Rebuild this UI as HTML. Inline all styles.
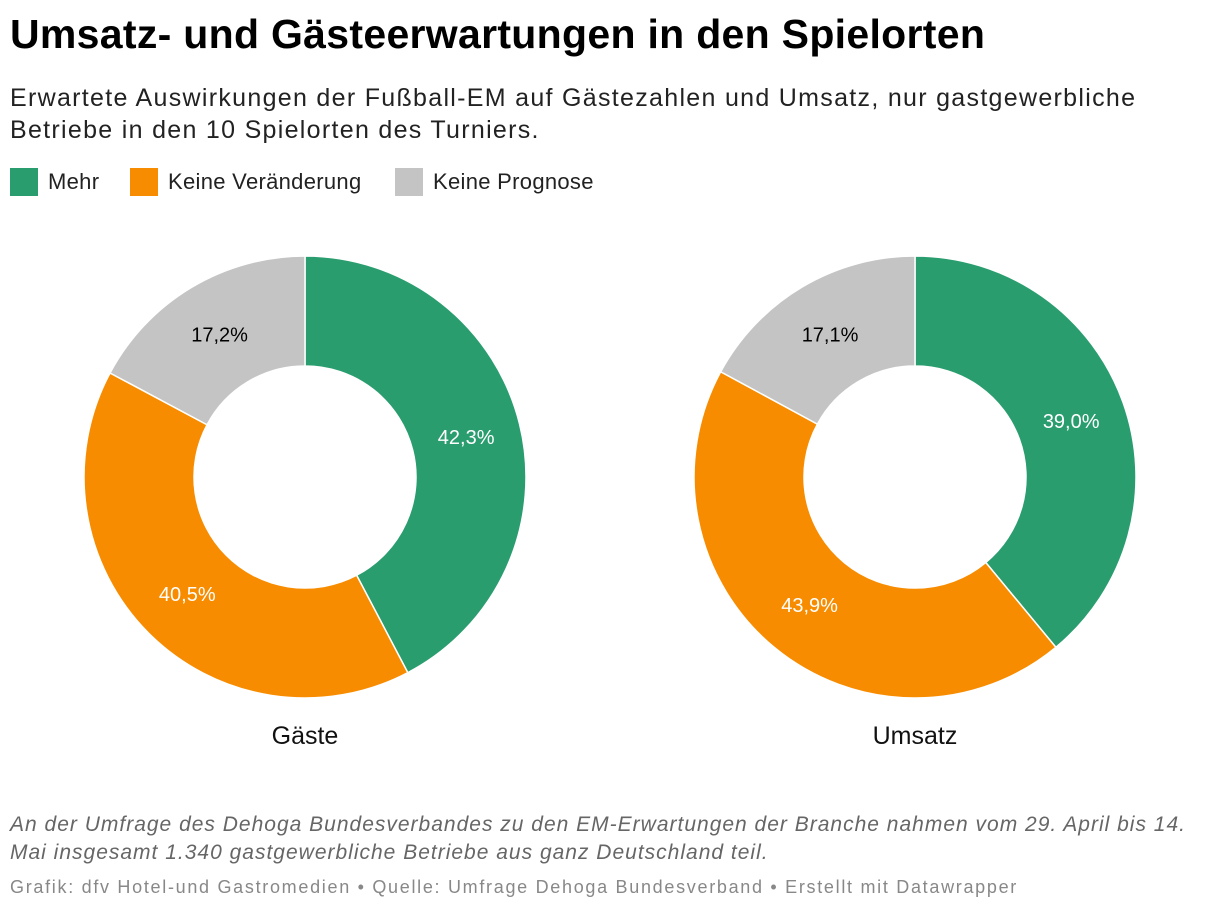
<!DOCTYPE html>
<html><head><meta charset="utf-8">
<style>
body{margin:0;width:1220px;height:912px;background:#fff;font-family:"Liberation Sans",sans-serif;position:relative;overflow:hidden}
.abs{position:absolute;white-space:nowrap}
#title{left:10px;top:11px;font-size:41px;font-weight:bold;color:#000;letter-spacing:0.3px}
#sub{left:10px;top:82px;font-size:25px;line-height:32px;color:#222;letter-spacing:1.3px}
.lg{top:168px;font-size:22px;color:#222;display:flex;align-items:center;letter-spacing:0.3px}
.sw{width:28px;height:28px;display:inline-block;margin-right:10px}
#note{left:10px;top:811px;font-size:21px;line-height:28px;font-style:italic;color:#666;letter-spacing:1px}
#credit{left:10px;top:877px;font-size:18px;color:#888;letter-spacing:1.7px}
</style></head><body>
<div class="abs" id="title">Umsatz- und Gästeerwartungen in den Spielorten</div>
<div class="abs" id="sub">Erwartete Auswirkungen der Fußball-EM auf Gästezahlen und Umsatz, nur gastgewerbliche<br>Betriebe in den 10 Spielorten des Turniers.</div>
<div class="abs lg" style="left:10px"><span class="sw" style="background:#2a9d6f"></span>Mehr</div>
<div class="abs lg" style="left:130px"><span class="sw" style="background:#f88c00"></span>Keine Veränderung</div>
<div class="abs lg" style="left:395px"><span class="sw" style="background:#c4c4c4"></span>Keine Prognose</div>
<svg id="chart" class="abs" style="left:0;top:0" width="1220" height="800"></svg>
<div class="abs" id="note">An der Umfrage des Dehoga Bundesverbandes zu den EM-Erwartungen der Branche nahmen vom 29. April bis 14.<br>Mai insgesamt 1.340 gastgewerbliche Betriebe aus ganz Deutschland teil.</div>
<div class="abs" id="credit">Grafik: dfv Hotel-und Gastromedien • Quelle: Umfrage Dehoga Bundesverband • Erstellt mit Datawrapper</div>
<script>
const charts = ["Gäste", "Umsatz"];
const mehr = [42.3, 39.0];
const keine = [40.5, 43.9];
const prognose = [17.2, 17.1];
const colors = ["#2a9d6f", "#f88c00", "#c4c4c4"];
const labelColors = ["#fff", "#fff", "#000"];
const centersX = [305, 915];
const cy = 477, R = 221, r = 111, LR = 166;
const svg = document.getElementById('chart');
const NS = "http://www.w3.org/2000/svg";
function pt(cx, a, rad){return [cx + rad*Math.sin(a), cy - rad*Math.cos(a)];}
charts.forEach((name, i) => {
  const vals = [mehr[i], keine[i], prognose[i]];
  const tot = vals.reduce((a,b)=>a+b,0);
  let a0 = 0;
  const cx = centersX[i];
  vals.forEach((v, j) => {
    const a1 = a0 + v/tot*2*Math.PI;
    const [x1,y1]=pt(cx,a0,R),[x2,y2]=pt(cx,a1,R),[x3,y3]=pt(cx,a1,r),[x4,y4]=pt(cx,a0,r);
    const lg = (a1-a0)>Math.PI?1:0;
    const p = document.createElementNS(NS,'path');
    p.setAttribute('d',`M${x1},${y1}A${R},${R} 0 ${lg} 1 ${x2},${y2}L${x3},${y3}A${r},${r} 0 ${lg} 0 ${x4},${y4}Z`);
    p.setAttribute('fill',colors[j]);p.setAttribute('stroke','#fff');p.setAttribute('stroke-width','1.5');
    
    
    svg.appendChild(p);
    const [lx,ly]=pt(cx,(a0+a1)/2,LR);
    const t=document.createElementNS(NS,'text');
    t.setAttribute('x',lx);t.setAttribute('y',ly+7);t.setAttribute('text-anchor','middle');
    t.setAttribute('font-size','20');t.setAttribute('fill',labelColors[j]);
    t.textContent=v.toFixed(1).replace('.',',')+'%';
    
    
    svg.appendChild(t);
    a0=a1;
  });
  const tt=document.createElementNS(NS,'text');
  tt.setAttribute('x',cx);tt.setAttribute('y',744);tt.setAttribute('text-anchor','middle');
  tt.setAttribute('font-size','25');tt.setAttribute('fill','#111');
  tt.textContent=name;
  
  
  svg.appendChild(tt);
});
</script>
</body></html>
